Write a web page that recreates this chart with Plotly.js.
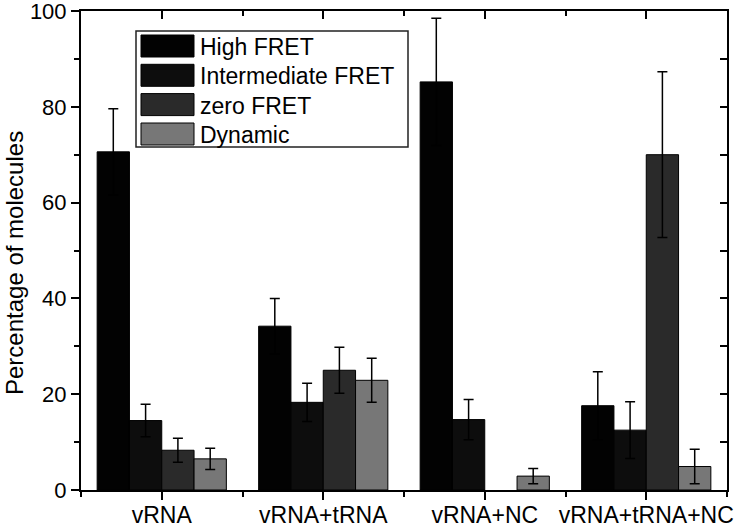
<!DOCTYPE html>
<html>
<head>
<meta charset="utf-8">
<script src="https://cdn.plot.ly/plotly-3.0.1.min.js"></script>
<style>html,body{margin:0;padding:0;background:#fff}#chart{width:750px;height:527px}</style>
</head>
<body>
<div id="chart"></div>
<script>
const categories = ["vRNA", "vRNA+tRNA", "vRNA+NC", "vRNA+tRNA+NC"];
const seriesNames = ["High FRET", "Intermediate FRET", "zero FRET", "Dynamic"];
const highFRET = [70.6, 34.2, 85.2, 17.6];
const highErr = [9.0, 5.8, 13.3, 7.1];
const interFRET = [14.5, 18.3, 14.7, 12.5];
const interErr = [3.4, 4.0, 4.2, 5.9];
const zeroFRET = [8.3, 25.0, null, 70.0];
const zeroErr = [2.5, 4.8, null, 17.3];
const dynamic = [6.5, 22.9, 2.9, 4.9];
const dynErr = [2.2, 4.6, 1.6, 3.6];
const colors = ["#020202", "#0d0d0d", "#2a2a2a", "#777777"];
const yTicks = [0, 20, 40, 60, 80, 100];
const yTitle = "Percentage of molecules";

const xIdx = categories.map((c, i) => i);
const values = [highFRET, interFRET, zeroFRET, dynamic];
const errs = [highErr, interErr, zeroErr, dynErr];
const font = "Liberation Sans, Arial, sans-serif";

// plot-area geometry (pixels)
const W = 750, H = 527, ML = 81, MR = 23, MT = 11, MB = 37;
const PW = W - ML - MR, PH = H - MT - MB;
const px = x => (x - ML) / PW;
const py = y => (H - MB - y) / PH;

const traces = values.map((v, k) => ({
  type: "bar",
  name: seriesNames[k],
  x: xIdx,
  y: v,
  marker: {color: colors[k], line: {color: "#000", width: 1}},
  error_y: {type: "data", array: errs[k], visible: true, color: "#000", thickness: 1.5, width: 5},
  hoverinfo: "skip",
  showlegend: false
}));
traces.push({type: "scatter", x: [], y: [], xaxis: "x2", yaxis: "y2", showlegend: false, hoverinfo: "skip"});

// legend drawn as a box, swatches and text labels
const legBox = {x0: 136, x1: 408, y0: 31, y1: 147};
const rowY = [46, 75.3, 104.6, 134];
const shapes = [{type: "rect", xref: "paper", yref: "paper",
  x0: px(legBox.x0), x1: px(legBox.x1), y0: py(legBox.y1), y1: py(legBox.y0),
  fillcolor: "#fff", line: {color: "#222", width: 1.5}, layer: "above"}];
const annotations = [];
seriesNames.forEach((n, k) => {
  shapes.push({type: "rect", xref: "paper", yref: "paper",
    x0: px(141), x1: px(194), y0: py(rowY[k] + 11), y1: py(rowY[k] - 11),
    fillcolor: colors[k], line: {color: "#000", width: 1}, layer: "above"});
  annotations.push({xref: "paper", yref: "paper", x: px(199), y: py(rowY[k] + 1),
    xanchor: "left", yanchor: "middle", text: n, showarrow: false,
    font: {size: 23, family: font, color: "#000"}, borderpad: 0});
});
// y-axis title
annotations.push({xref: "paper", yref: "paper", x: px(14), y: py(263), xanchor: "center", yanchor: "middle",
  text: yTitle, textangle: -90, showarrow: false, font: {size: 24, family: font, color: "#000"}, borderpad: 0});

const layout = {
  width: W, height: H,
  margin: {l: ML, r: MR, t: MT, b: MB, pad: 0},
  paper_bgcolor: "#fff", plot_bgcolor: "#fff",
  font: {family: font, color: "#000", size: 23},
  barmode: "group", bargap: 0.2, bargroupgap: 0,
  showlegend: false,
  shapes: shapes,
  annotations: annotations,
  xaxis: {
    range: [-0.5, 3.5], tickmode: "array", tickvals: xIdx, ticktext: categories,
    ticks: "outside", ticklen: 8, tickwidth: 2, tickcolor: "#000",
    minor: {tickmode: "linear", tick0: 0.5, dtick: 1, ticks: "outside", ticklen: 5, tickwidth: 2, tickcolor: "#000"},
    showline: true, linecolor: "#000", linewidth: 2, mirror: true,
    showgrid: false, zeroline: false, tickfont: {size: 23}, ticklabelstandoff: -5,
    ticklabeloverflow: "allow", automargin: false, fixedrange: true
  },
  yaxis: {
    range: [0, 100], tickmode: "array", tickvals: yTicks,
    ticks: "outside", ticklen: 8, tickwidth: 2, tickcolor: "#000",
    minor: {tickmode: "linear", tick0: 0, dtick: 10, ticks: "outside", ticklen: 5, tickwidth: 2, tickcolor: "#000"},
    showline: true, linecolor: "#000", linewidth: 2, mirror: true,
    showgrid: false, zeroline: false, tickfont: {size: 22}, ticklabeloverflow: "allow",
    automargin: false, fixedrange: true
  },
  xaxis2: {
    overlaying: "x", side: "top", anchor: "y2", range: [-0.5, 3.5],
    tickmode: "array", tickvals: xIdx, showticklabels: false,
    ticks: "inside", ticklen: 8, tickwidth: 2, tickcolor: "#000",
    minor: {tickmode: "linear", tick0: 0.5, dtick: 1, ticks: "inside", ticklen: 5, tickwidth: 2, tickcolor: "#000"},
    showgrid: false, zeroline: false, showline: false, fixedrange: true
  },
  yaxis2: {
    overlaying: "y", side: "right", anchor: "x2", range: [0, 100],
    tickmode: "linear", tick0: 0, dtick: 10, showticklabels: false,
    ticks: "inside", ticklen: 7, tickwidth: 2, tickcolor: "#000",
    showgrid: false, zeroline: false, showline: false, fixedrange: true
  }
};

Plotly.newPlot("chart", traces, layout, {displayModeBar: false, staticPlot: true});
</script>
</body>
</html>
